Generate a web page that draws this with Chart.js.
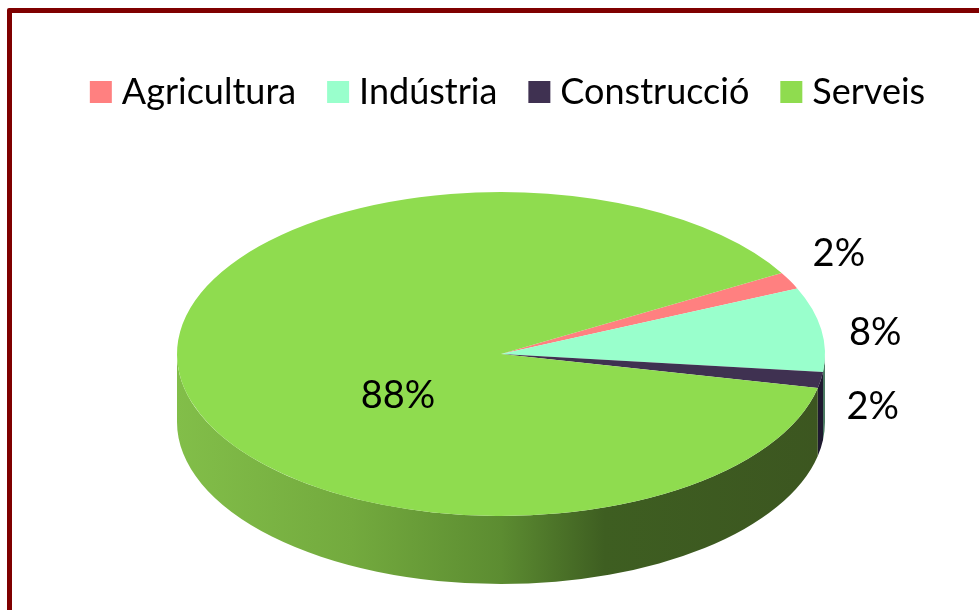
<!DOCTYPE html>
<html>
<head>
<meta charset="utf-8">
<title>Pie</title>
<script src="https://cdn.jsdelivr.net/npm/chart.js@4"></script>
<style>
  html, body { margin: 0; padding: 0; background: #fff; overflow: hidden; }
  #wrap { position: relative; width: 979px; height: 610px; }
  #frame {
    position: absolute; left: 7px; top: 8px; width: 1000px; height: 700px;
    border: 5px solid #7f0000; border-radius: 2px; box-sizing: border-box;
  }
  canvas { position: absolute; left: 0; top: 0; }
</style>
</head>
<body>
<div id="wrap">
  <div id="frame"></div>
  <canvas id="pie" width="979" height="610"></canvas>
</div>
<script>
const categories = ['Agricultura', 'Indústria', 'Construcció', 'Serveis'];
const shares = [1.7, 8.4, 1.6, 88.3];
const colors = ['#ff8080', '#99ffcc', '#3f3151', '#8fdc4f'];
const wallColors = ['#b35a5a', '#4a7a62', '#1f1a30', null];

// Look of the fake 3D
const PIE_CX = 501;
const PIE_CY = 354;
const PIE_RADIUS = 324;
const TILT = 0.5;
const DEPTH = 68;

// Label placement: k = fraction of the radius, dx/dy = nudge in px
const labelPlace = [
  { k: 1, dx: 49, dy: -27 },
  { k: 1, dx: 54, dy: 3 },
  { k: 1, dx: 52, dy: 27 },
  { k: 0.3, dx: -7, dy: 34 }
];

const fontName = 'Lato, "Open Sans", sans-serif';

// Side wall of the cake, only the front half (0..PI) shows
const drawWall = (ctx, arc, i) => {
  const from = Math.max(arc.startAngle, 0);
  const to = Math.min(arc.endAngle, Math.PI);
  if (to <= from) return;

  let fill = wallColors[i];
  if (!fill) {
    fill = ctx.createLinearGradient(PIE_CX - PIE_RADIUS, 0, PIE_CX + PIE_RADIUS, 0);
    fill.addColorStop(0, '#82be49');
    fill.addColorStop(0.27, '#73aa3e');
    fill.addColorStop(0.5, '#5c8c31');
    fill.addColorStop(0.66, '#3e5e21');
    fill.addColorStop(1, '#3c5620');
  }

  const ry = PIE_RADIUS * TILT;
  ctx.beginPath();
  ctx.ellipse(PIE_CX, PIE_CY, PIE_RADIUS, ry, 0, from, to);
  ctx.ellipse(PIE_CX, PIE_CY + DEPTH, PIE_RADIUS, ry, 0, to, from, true);
  ctx.closePath();
  ctx.fillStyle = fill;
  ctx.fill();
};

const tiltPlugin = {
  id: 'tilt',
  beforeDatasetsDraw(chart) {
    const ctx = chart.ctx;
    const arcs = chart.getDatasetMeta(0).data;
    arcs.forEach((arc, i) => drawWall(ctx, arc, i));

    // squash the library's circle into an ellipse
    ctx.save();
    ctx.translate(PIE_CX, PIE_CY);
    ctx.scale(1, TILT);
    ctx.translate(-arcs[0].x, -arcs[0].y);
  },
  afterDatasetsDraw(chart) {
    chart.ctx.restore();
  },
  afterDraw(chart) {
    const ctx = chart.ctx;
    ctx.save();
    ctx.font = `38px ${fontName}`;
    ctx.fillStyle = '#000';
    ctx.textAlign = 'center';
    ctx.textBaseline = 'middle';
    chart.getDatasetMeta(0).data.forEach((arc, i) => {
      const mid = (arc.startAngle + arc.endAngle) / 2;
      const p = labelPlace[i];
      const x = PIE_CX + Math.cos(mid) * PIE_RADIUS * p.k + p.dx;
      const y = PIE_CY + Math.sin(mid) * PIE_RADIUS * TILT * p.k + p.dy;
      ctx.fillText(`${Math.round(shares[i])}%`, x, y);
    });
    ctx.restore();
  }
};

new Chart(document.getElementById('pie'), {
  type: 'pie',
  data: {
    labels: categories,
    datasets: [{
      data: shares,
      backgroundColor: colors,
      borderWidth: 0,
      radius: PIE_RADIUS,
      clip: false
    }]
  },
  options: {
    responsive: false,
    animation: false,
    rotation: 60,
    layout: { padding: { left: 44, top: 35 } },
    plugins: {
      tooltip: { enabled: false },
      legend: {
        position: 'top',
        labels: {
          color: '#000',
          font: { family: fontName, size: 36 },
          padding: 39,
          // thin box + fat outline, gets a 22px swatch closer to its text
          boxWidth: 6,
          boxHeight: 6,
          generateLabels(chart) {
            return categories.map((name, i) => ({
              text: name,
              index: i,
              fillStyle: colors[i],
              strokeStyle: colors[i],
              lineWidth: 16,
              hidden: false
            }));
          }
        }
      }
    }
  },
  plugins: [tiltPlugin]
});
</script>
</body>
</html>
